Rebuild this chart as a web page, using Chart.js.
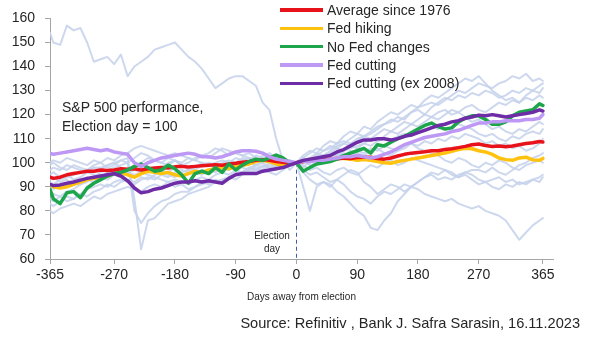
<!DOCTYPE html>
<html>
<head>
<meta charset="utf-8">
<script src="https://cdn.jsdelivr.net/npm/chart.js@4.4.0/dist/chart.umd.min.js"></script>
<style>
  body { margin: 0; background: #fff; font-family: "Liberation Sans", Arial, sans-serif; color: #262626; }
  #wrap { position: relative; width: 589px; height: 342px; overflow: hidden; }
  #wrap canvas { position: absolute; left: 0; top: 0; }
  #legend { position: absolute; left: 280px; top: 1px; font-size: 14px; line-height: 18.3px; }
  #legend .row { display: flex; align-items: center; white-space: nowrap; }
  #legend .swatch { display: inline-block; width: 43px; height: 3.5px; margin-right: 4px; }
  .note { position: absolute; white-space: nowrap; }
  #perf { left: 62px; top: 98px; font-size: 14px; line-height: 19px; }
  #eday { left: 247px; top: 229px; width: 50px; text-align: center; font-size: 10px; line-height: 13px; }
  #source { right: 9px; top: 315px; font-size: 14.6px; }
</style>
</head>
<body>
<div id="wrap">
  <canvas id="chart" width="589" height="342"></canvas>
  <div id="legend"></div>
  <div class="note" id="perf">S&amp;P 500 performance,<br>Election day = 100</div>
  <div class="note" id="eday">Election<br>day</div>
  <div class="note" id="source">Source: Refinitiv , Bank J. Safra Sarasin, 16.11.2023</div>
</div>
<script>
// days relative to election day (0)
const days = [
  -365, -360, -350, -340, -330, -320, -310, -300, -290, -280,
  -270, -260, -250, -240, -230, -220, -210, -200, -190, -180,
  -170, -160, -150, -140, -130, -120, -110, -100, -90, -80,
  -70, -60, -50, -40, -30, -20, -10, 0,
  10, 20, 30, 40, 50, 60, 70, 80, 90, 100,
  110, 120, 130, 140, 150, 160, 170, 180, 190, 200,
  210, 220, 230, 240, 250, 260, 270, 280, 290, 300,
  310, 320, 330, 340, 350, 360, 365
];
const dayTicks = [-365, -270, -180, -90, 0, 90, 180, 270, 365];
const ELECTION_DAY = 0;

// highlighted averages (election day = 100)
const avgSince1976 = [
  94, 93.5, 94, 95, 95.5, 96, 96.5, 96.5, 97, 96.8,
  97, 97.5, 97.3, 97.5, 97, 97.5, 97.8, 98, 97.8, 98.3,
  98.5, 98.2, 98.5, 98.8, 99, 99.2, 99, 99.5, 99.8, 100.2,
  100.5, 101, 101.3, 101, 100.5, 100.2, 99.8, 100,
  100.5, 100.8, 101, 101.3, 101.2, 101.6, 102, 101.8, 102.2, 102.3,
  102.3, 101.8, 101.5, 102, 102.8, 103.5, 104, 104.3, 104.6, 105,
  105, 105.5, 105.8, 106.3, 106.8, 107.5, 107.8, 107.2, 106.8, 107,
  106.7, 107, 107.5, 108, 108.3, 108.8, 108.6
];
const fedHiking = [
  91, 90, 89.5, 90, 91, 92, 93, 93.5, 94, 94.5,
  95.5, 96, 95, 94, 95.5, 96.5, 96, 95.5, 96, 95,
  94.5, 95.5, 96.5, 96, 97, 97.5, 98, 97.5, 98.5, 99,
  99.5, 100.5, 101, 100.5, 99.5, 99, 99.5, 100,
  100.5, 101, 101.5, 102, 101.5, 102, 101.8, 101.5, 101, 101.3,
  101, 100.5, 100, 99.8, 100.5, 101, 101.5, 102, 102.5, 103,
  103.5, 104, 104.8, 105.5, 106, 105.8, 105, 104.5, 103.5, 102,
  101.3, 101, 102, 102.3, 101.2, 101, 101.8
];
const noFedChanges = [
  89, 85, 83, 87.5, 88, 85.5, 89.5, 91.5, 93, 94.5,
  95.5, 96, 97, 98.5, 99.5, 98, 96.5, 97, 99, 97.5,
  95, 91.5, 95.5, 96.5, 95.5, 98, 96, 99.5, 97, 99,
  100.5, 101.5, 101, 102, 103.2, 102, 100, 100,
  96.5, 98, 99.5, 100, 100.5, 101.5, 103, 104, 105, 106,
  104, 107.5, 107, 108.5, 110, 111, 112.5, 114, 115.5, 116.5,
  115, 114, 114.5, 117, 118.5, 119.5, 119.5, 118, 116, 116,
  117, 119.5, 121, 121.5, 122, 124.5, 123.8
];
const fedCutting = [
  104, 103.5, 104, 104.5, 105, 105.5, 106, 105.5, 105, 105.5,
  104.5, 104, 103.5, 100, 98.5, 100, 101, 102, 102.5, 103,
  103.5, 104, 103.5, 102.5, 102.5, 102, 102.5, 103.5, 104.5, 105,
  105, 104.8, 104, 102.5, 101.5, 101, 100.5, 100,
  100.5, 100.5, 101, 101, 101.5, 102, 102.5, 102.5, 103, 102.5,
  102, 102.5, 103.5, 104.5, 106, 107.5, 108.5, 109.5, 110.5, 111,
  111.5, 112, 113, 113.5, 114.5, 115.5, 116.5, 116.5, 117, 117,
  117.5, 117.5, 117.5, 118, 118, 118.5, 120
];
const fedCuttingEx2008 = [
  91, 90.5, 90.8, 91.5, 92, 92.8, 93.5, 94, 94.5, 95,
  95.5, 94.5, 92.5, 89.5, 87.5, 88, 89, 89.5, 90.5, 91.5,
  92, 92, 92.5, 92, 92.5, 92, 91.5, 93.5, 95, 95.5,
  95.5, 95.5, 96.5, 97, 97.5, 98, 99, 100,
  101, 101.5, 102, 102.5, 103, 104.5, 105.5, 107, 108.5, 109.5,
  109.5, 110, 110, 109.5, 110, 111, 111.5, 112.5, 113.5, 114.5,
  115.5, 116, 117, 117.5, 118.5, 119, 119.8, 119.5, 120, 119.5,
  119, 119.5, 120, 120.5, 121, 122, 121.5
];

// individual election cycles
const cycle2008 = [
  154, 150, 149, 157, 155, 156, 150, 142, 143, 144,
  141, 145, 136, 140, 142, 144, 147, 148, 149, 150,
  147, 144, 142, 139, 135, 131, 133, 135, 136, 136,
  134, 132, 125, 122, 110, 101, 97, 100,
  90, 80, 90, 92, 91, 88, 86, 83, 80, 78,
  73, 72, 76, 79, 84, 87, 90, 92, 94, 95,
  93, 94, 93, 95, 96, 97, 97, 96, 98, 96,
  95, 97, 99, 100, 102, 103, 104
];
const cycle2020 = [
  92, 91, 93, 94, 95, 96, 97, 98, 98, 99,
  100, 101, 102, 85, 64, 76, 77, 80, 83, 84,
  85, 87, 88, 89, 90, 92, 93, 94, 95, 96,
  98, 99, 100, 98, 97, 99, 99, 100,
  102, 104, 106, 105, 106, 108, 109, 108, 110, 111,
  112, 114, 116, 117, 119, 118, 121, 123, 124, 125,
  124, 126, 128, 130, 129, 131, 133, 132, 131, 133,
  134, 136, 135, 137, 134, 135, 134
];
const cycleB = [
  85, 84, 86, 88, 89, 91, 92, 94, 96, 97,
  98, 99, 100, 80, 75, 79, 82, 84, 85, 87,
  88, 88, 90, 91, 92, 92, 93, 94, 93, 95,
  96, 97, 97, 96, 95, 97, 99, 100,
  101, 100, 102, 103, 104, 103, 105, 106, 107, 108,
  107, 109, 110, 109, 111, 112, 111, 113, 114, 115,
  114, 116, 117, 116, 115, 114, 112, 111, 112, 110,
  109, 111, 110, 112, 113, 112, 114
];
const cycle2000 = [
  97, 98, 97, 99, 98, 97, 96, 98, 97, 99,
  100, 98, 96, 95, 96, 98, 97, 98, 100, 101,
  99, 100, 102, 103, 104, 106, 105, 103, 104, 103,
  102, 101, 100, 102, 101, 100, 99, 100,
  96, 93, 91, 92, 90, 93, 95, 97, 96, 92,
  90, 87, 89, 91, 90, 88, 90, 89, 87, 86,
  85, 84, 85, 83, 82, 81, 82, 80, 79, 78,
  76, 72, 68, 71, 74, 76, 77
];
const cycleC = [
  100, 101, 100, 102, 101, 100, 99, 101, 100, 102,
  101, 103, 104, 106, 107, 106, 105, 104, 103, 104,
  103, 102, 101, 103, 102, 104, 106, 105, 104, 103,
  104, 102, 101, 100, 99, 98, 99, 100,
  101, 102, 104, 103, 105, 107, 108, 110, 112, 111,
  113, 115, 116, 118, 117, 119, 121, 122, 120, 123,
  125, 127, 126, 128, 127, 129, 128, 130, 129, 127,
  128, 130, 129, 131, 130, 132, 133
];
const cycleD = [
  80, 79, 81, 82, 83, 82, 84, 86, 85, 87,
  88, 89, 90, 89, 88, 90, 91, 90, 92, 93,
  92, 91, 93, 94, 93, 95, 96, 95, 97, 96,
  98, 97, 99, 98, 99, 98, 99, 100,
  99, 97, 98, 96, 95, 97, 98, 96, 95, 97,
  99, 98, 100, 101, 99, 100, 102, 101, 100, 99,
  98, 97, 95, 94, 96, 95, 93, 92, 93, 94,
  92, 93, 91, 92, 93, 94, 95
];
const cycleE = [
  88, 87, 86, 84, 85, 87, 89, 90, 91, 90,
  92, 93, 92, 91, 93, 94, 93, 95, 94, 96,
  97, 96, 95, 97, 96, 98, 97, 99, 98, 99,
  100, 99, 101, 100, 98, 99, 101, 100,
  101, 99, 100, 102, 101, 103, 104, 103, 105, 104,
  106, 105, 107, 106, 105, 107, 108, 106, 105, 104,
  103, 101, 100, 102, 101, 99, 98, 100, 99, 101,
  100, 98, 97, 99, 100, 101, 100
];
const cycleF = [
  83, 82, 84, 86, 85, 87, 86, 88, 89, 91,
  90, 92, 93, 92, 94, 93, 95, 96, 95, 94,
  96, 97, 96, 95, 97, 96, 98, 97, 99, 98,
  97, 99, 98, 100, 99, 98, 99, 100,
  103, 105, 104, 107, 109, 108, 111, 113, 112, 115,
  114, 117, 119, 121, 120, 122, 124, 123, 126, 128,
  127, 129, 131, 133, 135, 134, 136, 133, 130, 128,
  126, 127, 125, 128, 130, 129, 131
];
const cycleG = [
  95, 96, 94, 95, 93, 94, 96, 95, 94, 96,
  97, 95, 96, 98, 100, 102, 101, 100, 99, 101,
  100, 102, 101, 100, 99, 98, 100, 101, 100, 102,
  101, 103, 102, 101, 100, 101, 100, 100,
  98, 101, 103, 102, 104, 106, 105, 107, 109, 111,
  110, 112, 114, 113, 115, 117, 116, 118, 120, 119,
  121, 122, 120, 121, 119, 117, 118, 116, 114, 115,
  113, 112, 114, 113, 115, 117, 116
];
const cycleH = [
  90, 89, 91, 90, 92, 91, 93, 92, 94, 93,
  95, 94, 96, 97, 96, 95, 94, 93, 92, 90,
  91, 89, 90, 92, 91, 93, 92, 94, 96, 95,
  97, 98, 97, 99, 98, 100, 99, 100,
  97, 95, 96, 94, 92, 93, 91, 88, 86, 85,
  83, 86, 88, 87, 89, 91, 90, 92, 94, 96,
  95, 97, 96, 94, 95, 93, 91, 92, 90, 89,
  91, 90, 92, 91, 93, 92, 94
];
const cycleI = [
  99, 100, 98, 97, 99, 98, 97, 99, 100, 98,
  99, 101, 100, 102, 104, 103, 101, 100, 102, 101,
  99, 98, 97, 99, 100, 99, 98, 97, 99, 101,
  102, 101, 103, 104, 102, 101, 100, 100,
  102, 101, 103, 105, 107, 106, 108, 107, 106, 108,
  110, 109, 111, 113, 112, 114, 116, 115, 117, 119,
  118, 120, 122, 121, 123, 124, 122, 121, 123, 125,
  124, 126, 125, 127, 126, 128, 127
];
const cycleJ = [
  93, 94, 92, 93, 91, 92, 94, 93, 95, 94,
  96, 97, 95, 94, 95, 97, 98, 97, 96, 98,
  99, 97, 98, 100, 99, 100, 101, 100, 102, 101,
  100, 101, 102, 103, 101, 100, 101, 100,
  100, 102, 101, 103, 102, 104, 103, 105, 104, 103,
  105, 106, 104, 103, 105, 106, 108, 107, 109, 108,
  110, 109, 111, 110, 112, 111, 110, 108, 109, 107,
  108, 106, 107, 105, 106, 108, 110
];

const cycles = [cycle2008, cycle2020, cycleB, cycle2000, cycleC, cycleD,
                cycleE, cycleF, cycleG, cycleH, cycleI, cycleJ];

const seriesLabels = ['Average since 1976', 'Fed hiking', 'No Fed changes',
                      'Fed cutting', 'Fed cutting (ex 2008)'];
const seriesValues = [avgSince1976, fedHiking, noFedChanges, fedCutting, fedCuttingEx2008];

// styling
const seriesColors = ['#e8121b', '#ffc20e', '#1ca54b', '#bd98f4', '#6e2ca6'];
const seriesOrder = [3, 4, 2, 1, 0];   // lower order is painted on top
const CYCLE_COLOR = 'rgba(196, 209, 235, 0.85)';
const AXIS_COLOR = '#a6a6a6';
const TEXT_COLOR = '#262626';

Chart.defaults.font.family = '"Liberation Sans", Arial, sans-serif';

const toPoints = (vals) => vals.map((v, i) => ({ x: days[i], y: v }));

const datasets = [];
seriesValues.forEach((vals, i) => {
  datasets.push({
    label: seriesLabels[i],
    data: toPoints(vals),
    borderColor: seriesColors[i],
    borderWidth: 3.5,
    order: seriesOrder[i],
  });
});
cycles.forEach((vals) => {
  datasets.push({
    label: '',
    data: toPoints(vals),
    borderColor: CYCLE_COLOR,
    borderWidth: 2,
    order: 10,
  });
});

const electionLine = {
  id: 'electionLine',
  beforeDatasetsDraw(chart) {
    const { ctx, scales: { x, y } } = chart;
    const px = Math.round(x.getPixelForValue(ELECTION_DAY)) + 0.5;
    ctx.save();
    ctx.strokeStyle = '#3d5ea8';
    ctx.lineWidth = 1;
    ctx.setLineDash([4, 3]);
    ctx.beginPath();
    ctx.moveTo(px, y.getPixelForValue(100));
    ctx.lineTo(px, y.getPixelForValue(60));
    ctx.stroke();
    ctx.restore();
  }
};

new Chart(document.getElementById('chart'), {
  type: 'line',
  data: { datasets },
  options: {
    responsive: false,
    animation: false,
    devicePixelRatio: 1,
    layout: { padding: { top: 18, right: 36, left: 0, bottom: 0 } },
    elements: {
      point: { radius: 0 },
      line: { tension: 0, borderJoinStyle: 'round', borderCapStyle: 'round', fill: false },
    },
    plugins: { legend: { display: false }, tooltip: { enabled: false } },
    scales: {
      x: {
        type: 'linear',
        min: -365,
        max: 380,
        afterBuildTicks: (s) => { s.ticks = dayTicks.map((v) => ({ value: v })); },
        afterFit: (s) => { s.height = 83; },
        grid: { drawOnChartArea: false, drawTicks: true, tickLength: 5, color: AXIS_COLOR },
        border: { color: AXIS_COLOR },
        ticks: { font: { size: 14 }, color: TEXT_COLOR, padding: 3, maxRotation: 0, autoSkip: false },
        title: {
          display: true,
          text: 'Days away from election',
          font: { size: 10 },
          color: TEXT_COLOR,
          padding: { top: 0, bottom: 39 },
        },
      },
      y: {
        min: 60,
        max: 160,
        afterFit: (s) => { s.width = 50; },
        grid: { drawOnChartArea: false, drawTicks: true, tickLength: 5, color: AXIS_COLOR },
        border: { color: AXIS_COLOR },
        ticks: { stepSize: 10, font: { size: 14 }, color: TEXT_COLOR, padding: 10 },
      },
    },
  },
  plugins: [electionLine],
});

// legend list
const legend = document.getElementById('legend');
seriesLabels.forEach((label, i) => {
  const row = document.createElement('div');
  row.className = 'row';
  const sw = document.createElement('span');
  sw.className = 'swatch';
  sw.style.background = seriesColors[i];
  row.appendChild(sw);
  row.appendChild(document.createTextNode(label));
  legend.appendChild(row);
});
</script>
</body>
</html>
